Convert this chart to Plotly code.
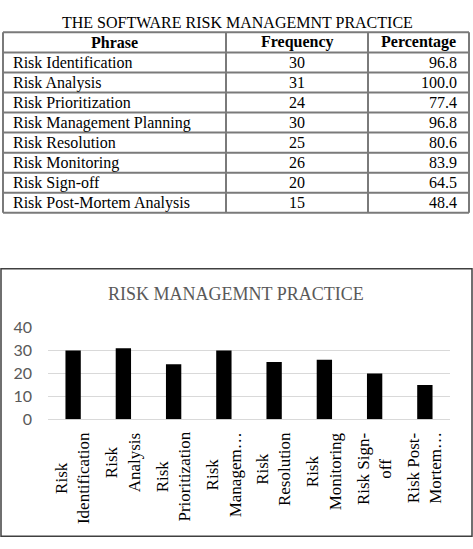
import plotly.graph_objects as go

# ---- data ----
phrases = ["Risk Identification", "Risk Analysis", "Risk Prioritization",
           "Risk Management Planning", "Risk Resolution", "Risk Monitoring",
           "Risk Sign-off", "Risk Post-Mortem Analysis"]
frequency = [30, 31, 24, 30, 25, 26, 20, 15]
percentage = ["96.8", "100.0", "77.4", "96.8", "80.6", "83.9", "64.5", "48.4"]
axis_labels = ["Risk<br>Identification", "Risk<br>Analysis", "Risk<br>Prioritization",
               "Risk<br>Managem…", "Risk<br>Resolution", "Risk<br>Monitoring",
               "Risk Sign-<br>off", "Risk Post-<br>Mortem…"]
table_headers = ["Phrase", "Frequency", "Percentage"]
y_ticks = [0, 10, 20, 30, 40]

W, H = 473, 549
SERIF = "Liberation Serif, Times New Roman, serif"
SANS = "Lato, Liberation Sans, sans-serif"
LINE = "#7a7a7a"

def py(px):
    return 1 - px / H

def px_x(px):
    return px / W

fig = go.Figure()

fig.add_trace(go.Bar(x=phrases, y=frequency, marker=dict(color="black", line=dict(width=0)),
                     hoverinfo="skip"))

fig.update_layout(
    width=W, height=H,
    margin=dict(l=0, r=0, t=0, b=0),
    paper_bgcolor="white", plot_bgcolor="white",
    showlegend=False,
    bargap=0.695,
    xaxis=dict(domain=[48 / W, 450 / W], showticklabels=False, showgrid=False,
               zeroline=False, showline=False, ticks=""),
    yaxis=dict(domain=[py(424), py(329)], range=[0, 40], tickvals=y_ticks,
               showgrid=True, gridcolor="#d9d9d9", gridwidth=1,
               zeroline=True, zerolinecolor="#d9d9d9", zerolinewidth=1,
               showline=False, ticks="", ticklabelstandoff=15,
               tickfont=dict(family=SANS, size=16, color="#595959")),
)

# ---------- table (drawn with shapes + annotations) ----------
col_edges = [3, 226, 368, 469]
table_top, header_h, row_h = 23, 21, 20.75
n_rows = len(phrases)
row_edges = [table_top, table_top + header_h] + [table_top + header_h + row_h * (i + 1)
                                                 for i in range(n_rows)]
table_bottom = row_edges[-1]

for ye in row_edges:
    fig.add_shape(type="line", xref="paper", yref="paper",
                  x0=px_x(col_edges[0]), x1=px_x(col_edges[-1]), y0=py(ye), y1=py(ye),
                  line=dict(color=LINE, width=2))
for xe in col_edges:
    fig.add_shape(type="line", xref="paper", yref="paper",
                  x0=px_x(xe), x1=px_x(xe), y0=py(table_top), y1=py(table_bottom),
                  line=dict(color=LINE, width=2))

hy = (row_edges[0] + row_edges[1]) / 2
for j, h in enumerate(table_headers):
    cx = (col_edges[j] + col_edges[j + 1]) / 2
    fig.add_annotation(text="<b>" + h + "</b>", xref="paper", yref="paper",
                       x=px_x(cx), y=py(hy), xanchor="center", yanchor="middle",
                       showarrow=False, font=dict(family=SERIF, size=16, color="black"))

for i in range(n_rows):
    cy = (row_edges[i + 1] + row_edges[i + 2]) / 2
    fig.add_annotation(text=phrases[i], xref="paper", yref="paper",
                       x=px_x(col_edges[0] + 8), y=py(cy), xanchor="left", yanchor="middle",
                       showarrow=False, font=dict(family=SERIF, size=16, color="black"))
    fig.add_annotation(text=str(frequency[i]), xref="paper", yref="paper",
                       x=px_x((col_edges[1] + col_edges[2]) / 2), y=py(cy),
                       xanchor="center", yanchor="middle",
                       showarrow=False, font=dict(family=SERIF, size=16, color="black"))
    fig.add_annotation(text=percentage[i], xref="paper", yref="paper",
                       x=px_x(col_edges[3] - 10), y=py(cy), xanchor="right", yanchor="middle",
                       showarrow=False, font=dict(family=SERIF, size=16, color="black"))

fig.add_annotation(text="THE SOFTWARE RISK MANAGEMNT PRACTICE", xref="paper", yref="paper",
                   x=237 / W, y=py(13), xanchor="center", yanchor="middle", showarrow=False,
                   font=dict(family=SERIF, size=16, color="black"))
fig.add_annotation(text="RISK MANAGEMNT PRACTICE", xref="paper", yref="paper",
                   x=236 / W, y=py(294), xanchor="center", yanchor="middle", showarrow=False,
                   font=dict(family=SERIF, size=18, color="#595959"))

for cat, lab in zip(phrases, axis_labels):
    fig.add_annotation(text=lab, x=cat, xref="x", yref="paper", y=py(435),
                       xanchor="center", yanchor="top", textangle=-90, align="center",
                       showarrow=False, font=dict(family=SERIF, size=17, color="black"))

fig.add_shape(type="rect", xref="paper", yref="paper", x0=1 / W, x1=472 / W,
              y0=py(545), y1=py(268), line=dict(color="#404040", width=1.5))

fig.write_html("out.html")
